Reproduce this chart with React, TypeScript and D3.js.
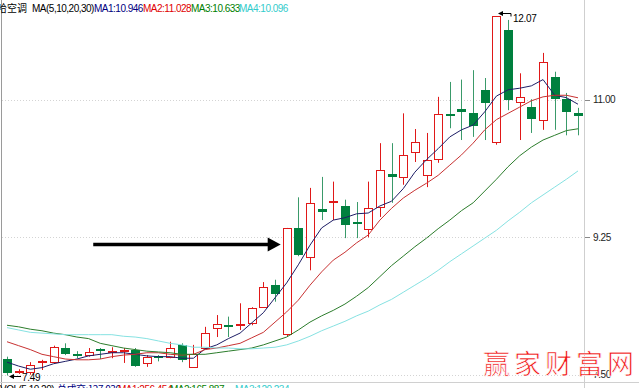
import React from 'react';
import * as d3 from 'd3';

const W = 639;
const H = 388;

// candle data
const OPEN = [7.70, 7.53, 7.53, 7.65, 7.66, 7.84, 7.75, 7.75, 7.83, 7.78, 7.79, 7.82, 7.65, 7.73, 7.73, 7.88, 7.60, 7.84, 8.09, 8.13, 8.12, 8.16, 8.36, 8.64, 8.02, 9.37, 9.00, 9.61, 9.69, 9.65, 9.45, 9.36, 9.64, 10.06, 10.02, 10.34, 10.04, 10.25, 10.82, 10.89, 10.83, 11.13, 10.47, 11.89, 10.98, 10.91, 10.75, 11.29, 11.01, 10.84];
const HIGH = [7.73, 7.57, 7.66, 7.69, 7.87, 7.90, 7.80, 7.84, 7.84, 7.85, 7.84, 7.84, 7.75, 7.75, 7.92, 7.90, 7.88, 8.11, 8.26, 8.24, 8.41, 8.36, 8.68, 8.71, 9.37, 9.76, 9.88, 10.02, 9.96, 9.73, 9.70, 9.96, 10.45, 10.45, 10.83, 10.63, 10.58, 11.04, 11.23, 11.26, 11.38, 11.28, 12.07, 12.02, 11.34, 11.01, 11.60, 11.36, 11.09, 10.90];
const LOW = [7.49, 7.51, 7.50, 7.56, 7.64, 7.75, 7.71, 7.73, 7.70, 7.71, 7.65, 7.60, 7.60, 7.67, 7.71, 7.66, 7.59, 7.83, 7.98, 7.98, 8.07, 8.13, 8.35, 8.43, 7.99, 9.01, 8.83, 9.47, 9.47, 9.24, 9.24, 9.25, 9.51, 9.69, 9.92, 10.21, 9.89, 10.20, 10.64, 10.49, 10.53, 10.49, 10.43, 10.87, 10.49, 10.58, 10.62, 10.62, 10.55, 10.55];
const CLOSE = [7.52, 7.55, 7.62, 7.67, 7.85, 7.76, 7.74, 7.79, 7.80, 7.79, 7.82, 7.62, 7.73, 7.71, 7.84, 7.69, 7.76, 8.03, 8.14, 8.11, 8.15, 8.35, 8.62, 8.52, 9.37, 9.03, 9.69, 9.57, 9.70, 9.41, 9.42, 9.62, 10.11, 10.02, 10.30, 10.47, 10.24, 10.82, 10.80, 10.85, 10.66, 10.97, 12.07, 11.00, 11.04, 10.76, 11.48, 11.01, 10.85, 10.80];

// moving average lines
const MA5 = [7.66, 7.61, 7.57, 7.59, 7.64, 7.67, 7.70, 7.74, 7.76, 7.78, 7.78, 7.76, 7.74, 7.73, 7.73, 7.71, 7.71, 7.83, 7.88, 7.96, 8.03, 8.16, 8.29, 8.48, 8.67, 8.90, 9.15, 9.37, 9.47, 9.50, 9.55, 9.56, 9.65, 9.71, 9.87, 10.08, 10.24, 10.38, 10.53, 10.62, 10.68, 10.85, 11.05, 11.13, 11.15, 11.18, 11.26, 11.06, 11.03, 10.946];
const MA10 = [7.92, 7.87, 7.82, 7.76, 7.73, 7.70, 7.69, 7.69, 7.70, 7.73, 7.75, 7.76, 7.78, 7.78, 7.76, 7.75, 7.76, 7.82, 7.84, 7.87, 7.90, 7.97, 8.04, 8.17, 8.30, 8.45, 8.64, 8.81, 8.96, 9.06, 9.18, 9.28, 9.47, 9.62, 9.75, 9.85, 9.94, 10.04, 10.17, 10.30, 10.45, 10.62, 10.75, 10.83, 10.91, 10.99, 11.04, 11.06, 11.06, 11.028];
const MA20 = [8.13, 8.11, 8.08, 8.06, 8.03, 8.01, 7.98, 7.96, 7.90, 7.87, 7.84, 7.82, 7.80, 7.79, 7.78, 7.76, 7.76, 7.76, 7.78, 7.80, 7.82, 7.84, 7.88, 7.93, 7.98, 8.07, 8.17, 8.25, 8.32, 8.40, 8.50, 8.61, 8.75, 8.89, 9.01, 9.13, 9.24, 9.36, 9.47, 9.59, 9.69, 9.84, 9.99, 10.15, 10.29, 10.40, 10.49, 10.55, 10.61, 10.633];
const MA30 = [8.10, 8.07, 8.04, 8.03, 8.02, 8.01, 8.01, 8.01, 8.01, 8.01, 7.99, 7.98, 7.96, 7.93, 7.90, 7.88, 7.85, 7.85, 7.84, 7.84, 7.83, 7.83, 7.84, 7.85, 7.88, 7.93, 7.99, 8.06, 8.12, 8.18, 8.25, 8.31, 8.39, 8.46, 8.55, 8.64, 8.73, 8.83, 8.94, 9.04, 9.14, 9.24, 9.34, 9.46, 9.57, 9.69, 9.79, 9.89, 9.99, 10.096];

const TICKS = [11.0, 9.25, 7.5];
const TICK_LABELS = ['11.00', '9.25', '7.50'];

const TITLE_NAME = '哈空调';
const TITLE_PARAM = 'MA(5,10,20,30)';
const MA_LABELS = ['MA1:10.946', 'MA2:11.028', 'MA3:10.633', 'MA4:10.096'];
const VOL_TEXTS = ['VOL(5,10,20)', '总成交:127.036', 'MA1:256.454', 'MA2:165.887', 'MA3:120.234'];
const WATERMARK = '赢家财富网';

// annotation arrow: from candle index, to candle index, at price
const ARROW = { from: 7.4, to: 24, price: 9.16 };

const UP = '#e01818';
const DOWN_FILL = '#00803e';
const DOWN_WICK = '#3a9a6a';
const MA_COLORS = ['#1e1e66', '#c83232', '#2c7d2c', '#86e2e2'];
const LABEL_COLORS = ['#000080', '#e00000', '#008000', '#33cccc'];
const NUM_FONT = '"Liberation Sans", Arial, sans-serif';
const CJK_FONT = '"Noto Sans CJK SC", sans-serif';

export default function App() {
  const n = CLOSE.length;
  const x = d3.scaleLinear().domain([0, n - 1]).range([7, 578]);
  const yMin = d3.min(LOW) as number;
  const yMax = d3.max(HIGH) as number;
  const y = d3.scaleLinear().domain([yMin, yMax]).range([375.5, 16]);

  const line = d3
    .line<number>()
    .x((_, i) => x(i))
    .y((d) => y(d));

  const candles = CLOSE.map((c, i) => {
    const o = OPEN[i];
    const cx = Math.round(x(i));
    const up = c >= o;
    const top = y(Math.max(o, c));
    const bot = y(Math.min(o, c));
    const hTop = y(HIGH[i]);
    const lBot = y(LOW[i]);
    const h = bot - top;
    const col = up ? UP : DOWN_WICK;
    if (h < 2.5) {
      const mid = Math.round((top + bot) / 2);
      return (
        <g key={i}>
          <line x1={cx + 0.5} x2={cx + 0.5} y1={hTop} y2={lBot} stroke={col} strokeWidth={1} />
          <rect x={cx - 4} y={mid - 1} width={9} height={2} fill={up ? UP : DOWN_FILL} />
        </g>
      );
    }
    if (up) {
      const rt = Math.round(top) + 0.5;
      const rb = Math.round(bot) + 0.5;
      return (
        <g key={i}>
          <line x1={cx + 0.5} x2={cx + 0.5} y1={hTop} y2={rt} stroke={UP} strokeWidth={1} />
          <line x1={cx + 0.5} x2={cx + 0.5} y1={rb} y2={lBot} stroke={UP} strokeWidth={1} />
          <rect x={cx - 3.5} y={rt} width={8} height={rb - rt} fill="#ffffff" stroke={UP} strokeWidth={1} />
        </g>
      );
    }
    return (
      <g key={i}>
        <line x1={cx + 0.5} x2={cx + 0.5} y1={hTop} y2={lBot} stroke={DOWN_WICK} strokeWidth={1} />
        <rect x={cx - 4} y={Math.round(top)} width={9} height={Math.max(2, Math.round(h))} fill={DOWN_FILL} />
      </g>
    );
  });

  const maxIdx = HIGH.indexOf(yMax);
  const minIdx = LOW.indexOf(yMin);
  const maxX = Math.round(x(maxIdx)) + 2;
  const maxY = Math.round(y(yMax)) - 2.5;
  const minX = Math.round(x(minIdx)) + 2;
  const minY = Math.round(y(yMin)) + 0.5;

  const ax1 = x(ARROW.from);
  const ax2 = x(ARROW.to) - 6;
  const ay = y(ARROW.price);

  const labelX = [94, 143, 191, 239];
  const volX = [0, 57, 118, 170, 235];
  const volColors = ['#000000', '#000080', '#e00000', '#008000', '#33cccc'];

  return (
    <svg
      width={W}
      height={H}
      style={{ position: 'absolute', left: 0, top: 0, background: '#ffffff' }}
      xmlns="http://www.w3.org/2000/svg"
    >
      <rect x={0} y={0} width={W} height={H} fill="#ffffff" />
      {/* gridlines */}
      {TICKS.map((t, i) => (
        <line key={'g' + i} x1={2} x2={584} y1={Math.round(y(t)) + 0.5} y2={Math.round(y(t)) + 0.5} stroke="#d4d4d4" strokeDasharray="1,2" />
      ))}
      {/* frame */}
      <line x1={1.5} x2={1.5} y1={0} y2={H} stroke="#9a9a9a" />
      <line x1={584.5} x2={584.5} y1={0} y2={H} stroke="#cfcfcf" />
      <line x1={0} x2={W} y1={382.5} y2={382.5} stroke="#d0d0d0" />
      {/* axis ticks and labels */}
      {TICKS.map((t, i) => (
        <g key={'t' + i}>
          <line x1={585} x2={590} y1={Math.round(y(t)) + 0.5} y2={Math.round(y(t)) + 0.5} stroke="#888" />
          <text x={593} y={y(t) + 3.5} fontSize={10} fontFamily={NUM_FONT} letterSpacing={-0.4} fill="#222">
            {TICK_LABELS[i]}
          </text>
        </g>
      ))}
      {/* candles */}
      {candles}
      {/* MA lines */}
      {[MA5, MA10, MA20, MA30].map((arr, k) => (
        <path key={'ma' + k} d={line(arr) as string} fill="none" stroke={MA_COLORS[k]} strokeWidth={1} />
      ))}
      {/* max annotation */}
      <path d={`M${maxX},${maxY} l5,-2.5 l0,5 z`} fill="#000" />
      <line x1={maxX + 4} x2={maxX + 13} y1={maxY} y2={maxY} stroke="#000" />
      <line x1={maxX + 13} x2={maxX + 13} y1={maxY} y2={maxY + 3} stroke="#000" />
      <text x={maxX + 15} y={maxY + 8} fontSize={10} fontFamily={NUM_FONT} letterSpacing={-0.3} fill="#000">
        {yMax.toFixed(2)}
      </text>
      {/* min annotation */}
      <path d={`M${minX},${minY} l5,-2.5 l0,5 z`} fill="#000" />
      <line x1={minX + 4} x2={minX + 12} y1={minY} y2={minY} stroke="#000" />
      <text x={minX + 13} y={minY + 4} fontSize={10} fontFamily={NUM_FONT} letterSpacing={-0.3} fill="#000">
        {yMin.toFixed(2)}
      </text>
      {/* big arrow */}
      <line x1={ax1} x2={ax2 - 10} y1={ay} y2={ay} stroke="#000" strokeWidth={3.5} />
      <path d={`M${ax2},${ay} L${ax2 - 13},${ay - 7} L${ax2 - 13},${ay + 7} Z`} fill="#000" />
      {/* title */}
      <text x={-3} y={12} fontSize={10} fontFamily={CJK_FONT} fill="#000">
        {TITLE_NAME}
      </text>
      <text x={32} y={12} fontSize={10} fontFamily={NUM_FONT} letterSpacing={-0.5} fill="#000">
        {TITLE_PARAM}
      </text>
      {MA_LABELS.map((s, i) => (
        <text key={'l' + i} x={labelX[i]} y={12} fontSize={10} fontFamily={NUM_FONT} letterSpacing={-0.5} fill={LABEL_COLORS[i]}>
          {s}
        </text>
      ))}
      {/* volume header, cut off at bottom */}
      {VOL_TEXTS.map((s, i) => (
        <text key={'v' + i} x={volX[i]} y={393} fontSize={10} fontFamily={i === 1 ? CJK_FONT : NUM_FONT} letterSpacing={-0.5} fill={volColors[i]}>
          {s}
        </text>
      ))}
      {/* watermark */}
      <text x={483} y={374} fontSize={27} fontFamily={CJK_FONT} letterSpacing={4} fill="#f01010" stroke="#ffffff" strokeWidth={0.7}>
        {WATERMARK}
      </text>
    </svg>
  );
}
